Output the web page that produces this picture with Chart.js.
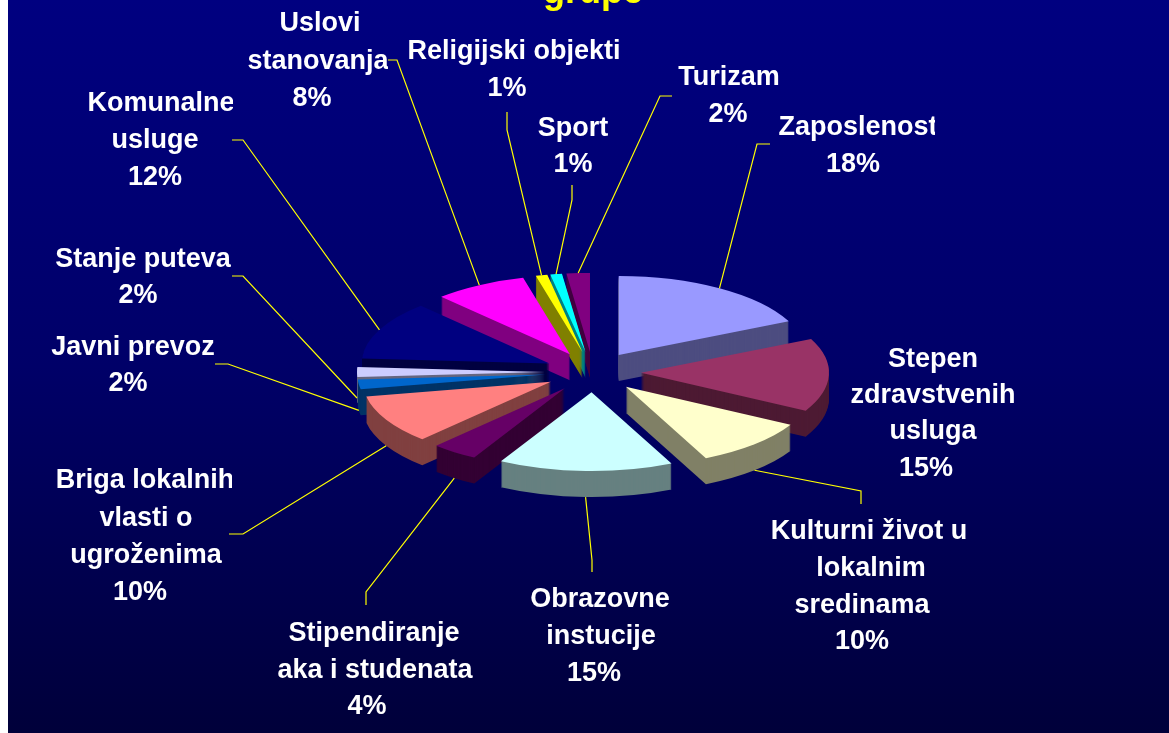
<!DOCTYPE html>
<html>
<head>
<meta charset="utf-8">
<style>
html,body{margin:0;padding:0;background:#fff;overflow:hidden}
#wrap{position:absolute;left:0;top:0;width:1169px;height:733px}
</style>
<script src="https://cdn.jsdelivr.net/npm/chart.js@4"></script>
</head>
<body>
<div id="wrap"><canvas id="c" width="1169" height="733"></canvas></div>
<script>
const categories = ["Zaposlenost","Stepen zdravstvenih usluga","Kulturni život u lokalnim sredinama","Obrazovne instucije","Stipendiranje aka i studenata","Briga lokalnih vlasti o ugroženima","Javni prevoz","Stanje puteva","Komunalne usluge","Uslovi stanovanja","Religijski objekti","Sport","Turizam"];
const shares = [18,15,10,15,4,10,2,2,12,8,1,1,2];
const titleText = "grupe";
const topColors = ["#9999FF","#993366","#FFFFCC","#CCFFFF","#660066","#FF8080","#0066CC","#CCCCFF","#000080","#FF00FF","#FFFF00","#00FFFF","#800080"];
const sideColors = ["#4D4D80","#4D1A33","#808066","#668080","#330033","#804040","#003366","#666680","#000040","#800080","#808000","#008080","#400040"];

// label layout: text lines with their centre x and centre y, right clip edge, leader elbow points
const labelLayout = [
 {lines:[["Zaposlenost",858,126],["18%",853,163]],clip:935,elbow:[[757,144],[770,144]]},
 {lines:[["Stepen",933,358],["zdravstvenih",933,394],["usluga",933,430],["15%",926,467]],clip:1017,elbow:null},
 {lines:[["Kulturni život u",869,530],["lokalnim",871,567],["sredinama",862,604],["10%",862,640]],clip:968,elbow:[[861,491],[861,504]]},
 {lines:[["Obrazovne",600,598],["instucije",601,635],["15%",594,672]],clip:1169,elbow:[[592,560],[592,572]]},
 {lines:[["Stipendiranje",374,632],["aka i studenata",375,669],["4%",367,705]],clip:1169,elbow:[[366,592],[366,605]]},
 {lines:[["Briga lokalnih",145,479],["vlasti o",146,517],["ugroženima",146,554],["10%",140,591]],clip:232,elbow:[[243,534],[229,534]]},
 {lines:[["Javni prevoz",133,346],["2%",128,382]],clip:217,elbow:[[228,364],[215,364]]},
 {lines:[["Stanje puteva",143,258],["2%",138,294]],clip:232,elbow:[[243,276],[232,276]]},
 {lines:[["Komunalne",161,102],["usluge",155,139],["12%",155,176]],clip:233,elbow:[[243,140],[232,140]]},
 {lines:[["Uslovi",320,22],["stanovanja",318,60],["8%",312,97]],clip:388,elbow:[[397,60],[388,60]]},
 {lines:[["Religijski objekti",514,50],["1%",507,87]],clip:620,elbow:[[507,130],[507,112]]},
 {lines:[["Sport",573,127],["1%",573,163]],clip:1169,elbow:[[572,200],[572,185]]},
 {lines:[["Turizam",729,76],["2%",728,113]],clip:1169,elbow:[[660,96],[672,96]]}
];

const PIE = {cx:593, cy:372, tilt:0.42, radius:188, explode:48, depth:26};

function sliceOrigin(arc){
  const mid=(arc.startAngle+arc.endAngle)/2;
  return {mid, dx:Math.cos(mid)*PIE.explode, dy:Math.sin(mid)*PIE.explode};
}

const pie3d = {
  id:'pie3d',
  beforeDraw(chart){
    const {ctx,width,height}=chart;
    ctx.save();
    ctx.fillStyle='#fff';
    ctx.fillRect(0,0,width,height);
    const g=ctx.createLinearGradient(0,0,0,height);
    g.addColorStop(0,'#000080');
    g.addColorStop(0.5,'#000068');
    g.addColorStop(1,'#00003A');
    ctx.fillStyle=g;
    ctx.fillRect(8,0,width-8,height);
    ctx.restore();
  },
  beforeDatasetDraw(chart,args){
    const {ctx}=chart;
    const arcs=args.meta.data;
    const order=arcs.map((a,i)=>i).sort((p,q)=>{
      const mp=(arcs[p].startAngle+arcs[p].endAngle)/2, mq=(arcs[q].startAngle+arcs[q].endAngle)/2;
      return Math.sin(mp)-Math.sin(mq);
    });
    order.forEach(i=>{
      const arc=arcs[i];
      const o=sliceOrigin(arc);
      const base=arc.options;
      const paint=(color,drop)=>{
        const saved=arc.options;
        arc.options=Object.assign({},base,{backgroundColor:color,borderColor:color,borderWidth:0,offset:0});
        ctx.save();
        ctx.translate(PIE.cx,PIE.cy+drop);
        ctx.scale(1,PIE.tilt);
        ctx.translate(o.dx-arc.x,o.dy-arc.y);
        arc.draw(ctx);
        ctx.restore();
        arc.options=saved;
      };
      for(let d=PIE.depth;d>=1;d--) paint(sideColors[i],d);
      paint(topColors[i],0);
    });
    return false;
  },
  afterDatasetsDraw(chart){
    const {ctx}=chart;
    const arcs=chart.getDatasetMeta(0).data;
    ctx.save();
    ctx.strokeStyle='#FFFF00';
    ctx.lineWidth=1.2;
    arcs.forEach((arc,i)=>{
      const L=labelLayout[i];
      if(!L.elbow) return;
      const o=sliceOrigin(arc);
      const sx=PIE.cx+o.dx+Math.cos(o.mid)*PIE.radius;
      const sinv=Math.sin(o.mid);
      const sy=PIE.cy+(o.dy+sinv*PIE.radius)*PIE.tilt+(sinv>-0.01?PIE.depth:0);
      ctx.beginPath();
      ctx.moveTo(sx,sy);
      L.elbow.forEach(p=>ctx.lineTo(p[0],p[1]));
      ctx.stroke();
    });
    ctx.fillStyle='#fff';
    ctx.font='bold 27px "Liberation Sans", Arial, sans-serif';
    ctx.textAlign='center';
    ctx.textBaseline='middle';
    labelLayout.forEach(L=>{
      ctx.save();
      ctx.beginPath();
      ctx.rect(0,0,L.clip,733);
      ctx.clip();
      L.lines.forEach(t=>ctx.fillText(t[0],t[1],t[2]+1.5));
      ctx.restore();
    });
    ctx.fillStyle='#FFFF00';
    ctx.font='bold 36px "Liberation Sans", Arial, sans-serif';
    ctx.textBaseline='alphabetic';
    ctx.fillText(titleText,593,3);
    ctx.restore();
  }
};

new Chart(document.getElementById('c'),{
  type:'pie',
  data:{labels:categories,datasets:[{data:shares,backgroundColor:topColors,borderWidth:0,radius:PIE.radius}]},
  options:{
    responsive:false,animation:false,
    rotation:0,
    layout:{padding:0},
    plugins:{legend:{display:false},tooltip:{enabled:false},title:{display:false}}
  },
  plugins:[pie3d]
});
</script>
</body>
</html>
